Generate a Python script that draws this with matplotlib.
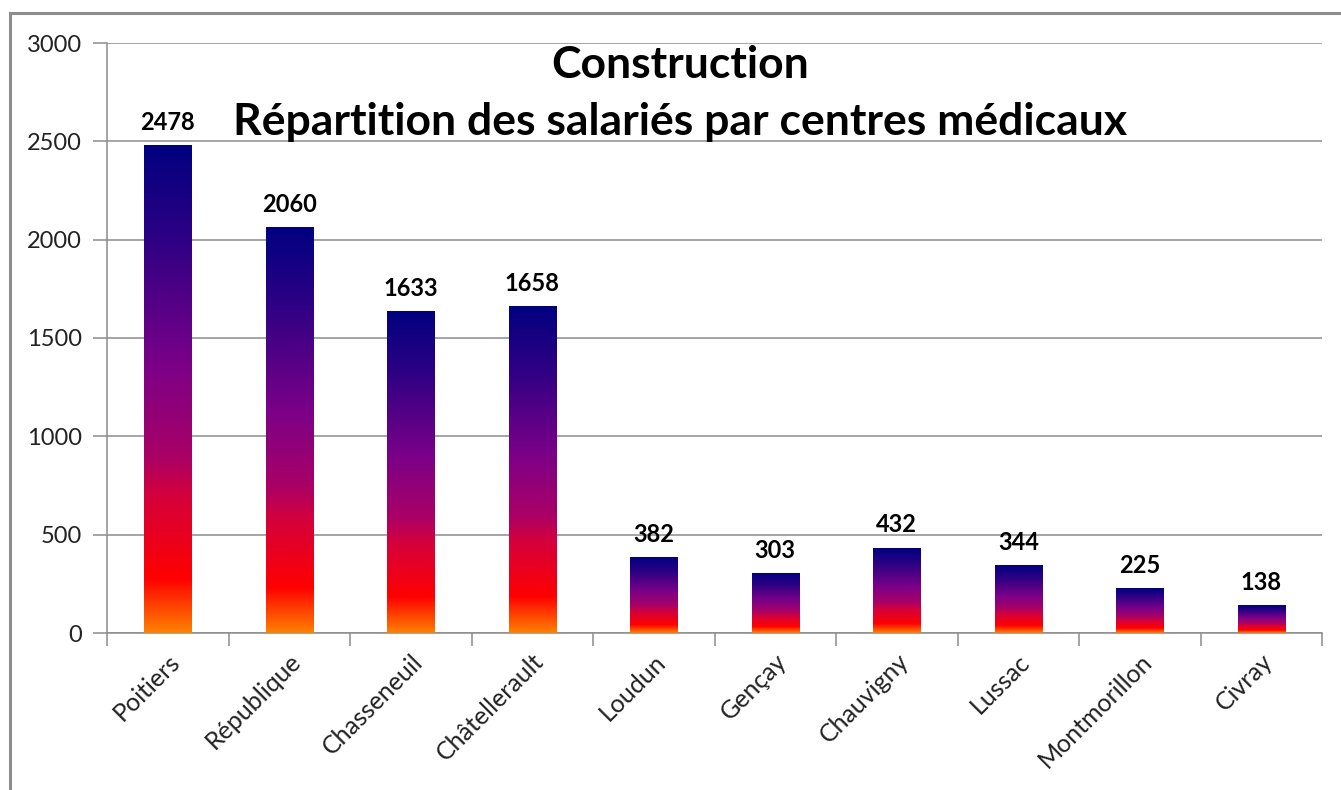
import numpy as np
import matplotlib
matplotlib.use("Agg")
import matplotlib.pyplot as plt
from matplotlib.colors import LinearSegmentedColormap
from matplotlib.patches import Rectangle

categories = ["Poitiers", "République", "Chasseneuil", "Châtellerault", "Loudun",
              "Gençay", "Chauvigny", "Lussac", "Montmorillon", "Civray"]
values = [2478, 2060, 1633, 1658, 382, 303, 432, 344, 225, 138]
title_lines = ["Construction", "Répartition des salariés par centres médicaux"]
yticks = [0, 500, 1000, 1500, 2000, 2500, 3000]

plt.rcParams['font.family'] = ['Lato', 'DejaVu Sans']

W, H = 1341, 790
fig = plt.figure(figsize=(W / 100, H / 100), dpi=100)
fig.patch.set_facecolor("white")

# outer chart border
fig.patches.append(Rectangle((10 / W, -0.05), 1.2, (H - 13) / H + 0.05,
                             transform=fig.transFigure, fill=False,
                             edgecolor="#8c8c8c", linewidth=2.2, zorder=0))

ax = fig.add_axes([107 / W, (H - 633) / H, (1322 - 107) / W, (633 - 43) / H])

cmap = LinearSegmentedColormap.from_list("fire", [
    (0.00, "#ff8000"), (0.08, "#ff2400"), (0.11, "#ff0000"),
    (0.28, "#d4003c"), (0.36, "#aa0066"), (0.55, "#7a0088"),
    (0.80, "#300084"), (1.00, "#000080")])
grad = np.linspace(0, 1, 256).reshape(-1, 1)

bw = 0.39
x = np.arange(len(categories))
for xi, v in zip(x, values):
    ax.imshow(grad, cmap=cmap, origin="lower", aspect="auto",
              extent=[xi - bw / 2, xi + bw / 2, 0, v], zorder=3,
              interpolation="bilinear")
    ax.text(xi, v + 60, str(v), ha="center", va="bottom", fontsize=17,
            fontweight="bold", color="black", zorder=4)

ax.set_xlim(-0.5, len(categories) - 0.5)
ax.set_ylim(0, 3000)
ax.set_yticks(yticks)
ax.set_yticklabels([str(t) for t in yticks], fontsize=17, color="#222222")
ax.yaxis.grid(True, color="#8c8c8c", linewidth=1.1, zorder=0)
ax.set_axisbelow(True)

ax.set_xticks(x)
ax.set_xticklabels(categories, rotation=45, ha="right", rotation_mode="anchor",
                   fontsize=18, color="#222222")
ax.tick_params(axis="x", length=0, pad=12)
ax.set_xticks(np.arange(-0.5, len(categories)), minor=True)
ax.tick_params(axis="x", which="minor", length=9, color="#8c8c8c", width=1.1)
ax.tick_params(axis="y", length=10, color="#8c8c8c", width=1.1, pad=8)

for s in ["top", "right"]:
    ax.spines[s].set_visible(False)
for s in ["left", "bottom"]:
    ax.spines[s].set_color("#8c8c8c")
    ax.spines[s].set_linewidth(1.1)

fig.text(680 / W, 1 - 65 / H, title_lines[0], ha="center", va="center",
         fontsize=32, fontweight="bold", color="black")
fig.text(680 / W, 1 - 122 / H, title_lines[1], ha="center", va="center",
         fontsize=32, fontweight="bold", color="black")

fig.savefig("out.png", dpi=100, facecolor="white")
